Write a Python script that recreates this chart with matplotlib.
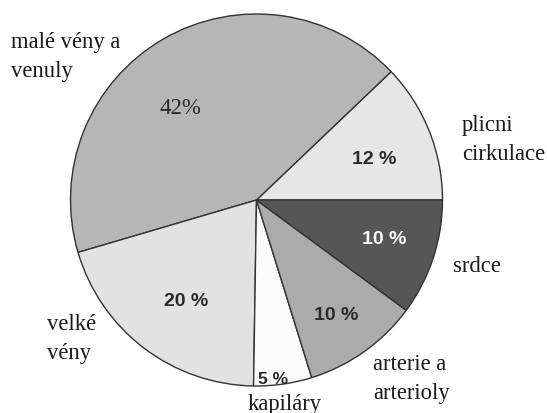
import matplotlib
matplotlib.use("Agg")
import matplotlib.pyplot as plt

# Distribution of blood volume in the circulation (percent)
categories = ["plicni\ncirkulace", "malé vény a\nvenuly", "velké\nvény",
              "kapiláry", "arterie a\narterioly", "srdce"]
values = [12, 42, 20, 5, 10, 10]
pct_labels = ["12 %", "42%", "20 %", "5 %", "10 %", "10 %"]
colors = ["#e6e6e6", "#b6b6b6", "#e2e2e2", "#fbfbfb", "#ababab", "#565656"]

W, H = 547, 414
fig = plt.figure(figsize=(W / 100, H / 100), dpi=100)
ax = fig.add_axes([0, 0, 1, 1])

cx, cy, r = 256.5, H - 201, 186
ax.pie(values, colors=colors, startangle=0, counterclock=True,
       center=(cx, cy), radius=r,
       wedgeprops=dict(edgecolor="#333333", linewidth=1.0))
ax.set_xlim(0, W)
ax.set_ylim(0, H)
ax.set_aspect("equal")
ax.axis("off")

serif = ["Liberation Serif", "DejaVu Serif"]
sans = ["Liberation Sans", "DejaVu Sans"]

# percentage labels inside the slices
pct_pos = [(374, 159), (180, 108), (186, 301), (273, 380), (336, 315), (384, 240)]
for i, (txt, (px, py)) in enumerate(zip(pct_labels, pct_pos)):
    if i == 1:
        ax.text(px, H - py, txt, ha="center", va="center", family=serif,
                size=16.5, color="#2a2a2a")
    else:
        ax.text(px, H - py, txt, ha="center", va="center", family=sans,
                weight="bold", size=12.5 if i == 3 else 14,
                color="white" if i == 5 else "#2a2a2a")

# category labels around the pie
cat_pos = [(462, 140, "left"), (11, 57, "left"), (47, 339, "left"),
           (285, 405, "center"), (373, 379, "left"), (453, 267, "left")]
for name, (px, py, ha) in zip(categories, cat_pos):
    ax.text(px, H - py, name, ha=ha, va="center", family=serif,
            size=16.3, color="#1a1a1a", linespacing=1.45)

fig.savefig("out.png", dpi=100, facecolor="white")
